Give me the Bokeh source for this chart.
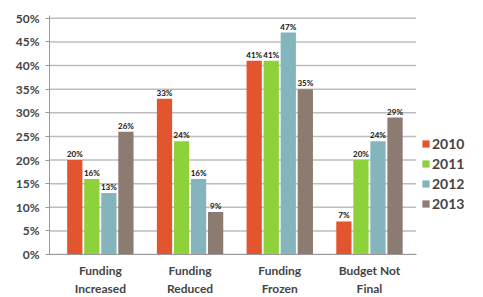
from bokeh.plotting import figure
from bokeh.models import (ColumnDataSource, Legend, LegendItem, FixedTicker, Range1d,
                          CustomJSTickFormatter, LinearAxis)
from bokeh.core.properties import value
from bokeh.embed import file_html
from bokeh.resources import INLINE

categories = ["Funding Increased", "Funding Reduced", "Funding Frozen", "Budget Not Final"]
label_line1 = ["Funding", "Funding", "Funding", "Budget Not"]
label_line2 = ["Increased", "Reduced", "Frozen", "Final"]
years = ["2010", "2011", "2012", "2013"]
v2010 = [20, 33, 41, 7]
v2011 = [16, 24, 41, 20]
v2012 = [13, 16, 47, 24]
v2013 = [26, 9, 35, 29]
colors = ["#E2552F", "#8DD23A", "#84B4BC", "#8C7B70"]
yticks = [0, 5, 10, 15, 20, 25, 30, 35, 40, 45, 50]

series = [v2010, v2011, v2012, v2013]
centers = [i + 0.5 for i in range(len(categories))]
offsets = [-0.285, -0.095, 0.095, 0.285]
bar_w = 0.17
x_start, x_end = -0.067, 4.593
grid_end = 4.02

p = figure(x_range=Range1d(x_start, x_end), y_range=Range1d(0, 50.6),
           frame_width=418, frame_height=239, output_backend="svg", toolbar_location=None,
           min_border_left=49, min_border_right=0, min_border_top=15, min_border_bottom=0,
           x_axis_location=None)

# horizontal gridlines (limited to the bar area)
p.segment(x0=[x_start] * len(yticks), x1=[grid_end] * len(yticks), y0=yticks, y1=yticks,
          line_color="#BDBDBD", line_width=1.5)

items = []
for y, s, c, o in zip(years, series, colors, offsets):
    src = ColumnDataSource(dict(x=[cx + o for cx in centers], top=s,
                                lab=["%d%%" % v for v in s]))
    r = p.vbar(x="x", top="top", width=bar_w, source=src, fill_color=c, line_color=None)
    p.text(x="x", y="top", text="lab", source=src,
           text_font=value("Lato"), text_font_style="bold", text_font_size="8px",
           text_align="center", text_baseline="bottom", y_offset=-1, text_color="#111111")
    items.append(LegendItem(label=y, renderers=[r]))

legend = Legend(items=items, location=(372, 41), border_line_color=None,
                background_fill_alpha=0,
                label_text_font="Lato", label_text_font_style="bold", label_text_font_size="14px",
                glyph_width=9, glyph_height=9, label_standoff=2, spacing=0, padding=0, margin=0,
                label_height=20)
p.add_layout(legend)

p.yaxis.ticker = FixedTicker(ticks=yticks)
p.yaxis.formatter = CustomJSTickFormatter(code="return tick + '%';")
p.yaxis.major_label_text_font = "Lato"
p.yaxis.major_label_text_font_style = "bold"
p.yaxis.major_label_text_font_size = "12px"
p.yaxis.axis_line_color = "#999999"
p.yaxis.major_tick_line_color = "#999999"
p.yaxis.major_tick_in = 0
p.yaxis.major_tick_out = 4
p.yaxis.minor_tick_line_color = None
p.yaxis.major_label_standoff = 6

ax1 = LinearAxis(ticker=FixedTicker(ticks=centers),
                 major_label_overrides={c: t for c, t in zip(centers, label_line1)},
                 bounds=(x_start, grid_end))
ax2 = LinearAxis(ticker=FixedTicker(ticks=centers),
                 major_label_overrides={c: t for c, t in zip(centers, label_line2)},
                 axis_line_color=None)
for ax in (ax1, ax2):
    ax.major_label_text_font = "Lato"
    ax.major_label_text_font_style = "bold"
    ax.major_label_text_font_size = "12px"
    ax.major_tick_line_color = None
    ax.minor_tick_line_color = None
    ax.major_tick_in = 0
    ax.major_tick_out = 0
    ax.major_label_standoff = 0
ax1.axis_line_color = "#999999"
ax1.major_label_standoff = 8
p.add_layout(ax1, "below")
p.add_layout(ax2, "below")

p.xgrid.grid_line_color = None
p.ygrid.grid_line_color = None
p.outline_line_color = None

open("out.html", "w").write(file_html(p, INLINE))
